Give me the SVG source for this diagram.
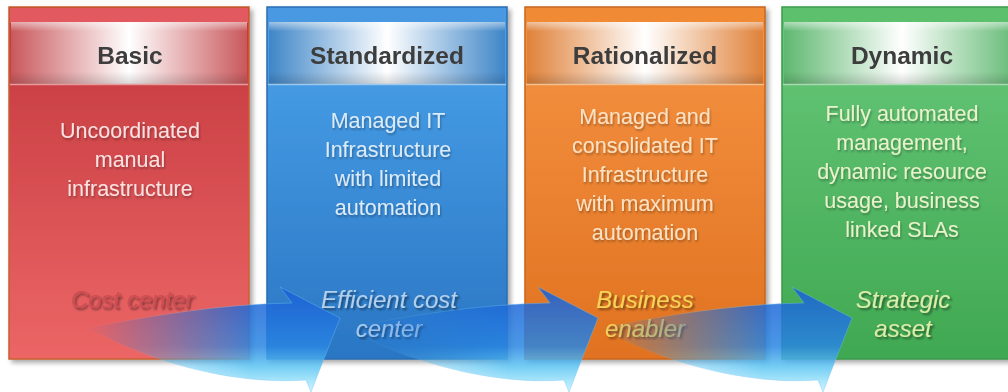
<svg xmlns="http://www.w3.org/2000/svg" width="1008" height="392" viewBox="0 0 1008 392">
<defs>
<style>
.title{font-family:"Liberation Sans",Arial,sans-serif;font-weight:bold;font-size:24.5px;fill:#3c3c3c;text-anchor:middle}
.body{font-family:"Liberation Sans",Arial,sans-serif;font-size:21.5px;text-anchor:middle;filter:url(#tsh)}
.role{font-family:"Liberation Sans",Arial,sans-serif;font-style:italic;font-size:24px;text-anchor:middle;filter:url(#emb)}
</style>
<filter id="tsh" x="-10%" y="-20%" width="120%" height="150%">
<feGaussianBlur in="SourceAlpha" stdDeviation="1"/>
<feOffset dx="1" dy="1.5" result="b"/>
<feComponentTransfer><feFuncA type="linear" slope="0.3"/></feComponentTransfer>
<feMerge><feMergeNode/><feMergeNode in="SourceGraphic"/></feMerge>
</filter>
<filter id="emb" x="-10%" y="-20%" width="120%" height="150%">
<feGaussianBlur in="SourceAlpha" stdDeviation="1.2"/>
<feOffset dx="1.5" dy="2" result="b"/>
<feComponentTransfer><feFuncA type="linear" slope="0.45"/></feComponentTransfer>
<feMerge><feMergeNode/><feMergeNode in="SourceGraphic"/></feMerge>
</filter>
<filter id="bsh" x="-5%" y="-5%" width="115%" height="115%">
<feGaussianBlur in="SourceAlpha" stdDeviation="2.5"/>
<feOffset dx="3" dy="3"/>
<feComponentTransfer><feFuncA type="linear" slope="0.35"/></feComponentTransfer>
<feMerge><feMergeNode/><feMergeNode in="SourceGraphic"/></feMerge>
</filter>
<linearGradient id="gRed" x1="0" y1="0" x2="0" y2="1"><stop offset="0" stop-color="#c2363c"/><stop offset="1" stop-color="#ec6666"/></linearGradient>
<linearGradient id="gBlue" x1="0" y1="0" x2="0" y2="1"><stop offset="0" stop-color="#4ca4ec"/><stop offset="1" stop-color="#2a76c4"/></linearGradient>
<linearGradient id="gOrange" x1="0" y1="0" x2="0" y2="1"><stop offset="0" stop-color="#f69444"/><stop offset="1" stop-color="#e07220"/></linearGradient>
<linearGradient id="gGreen" x1="0" y1="0" x2="0" y2="1"><stop offset="0" stop-color="#68c87a"/><stop offset="1" stop-color="#40a852"/></linearGradient>
<linearGradient id="hRed" x1="0" y1="0" x2="1" y2="0"><stop offset="0" stop-color="#c9585c"/><stop offset="0.5" stop-color="#ffffff"/><stop offset="1" stop-color="#c9585c"/></linearGradient>
<linearGradient id="hBlue" x1="0" y1="0" x2="1" y2="0"><stop offset="0" stop-color="#3f86c8"/><stop offset="0.5" stop-color="#ffffff"/><stop offset="1" stop-color="#3f86c8"/></linearGradient>
<linearGradient id="hOrange" x1="0" y1="0" x2="1" y2="0"><stop offset="0" stop-color="#e0823a"/><stop offset="0.5" stop-color="#ffffff"/><stop offset="1" stop-color="#e0823a"/></linearGradient>
<linearGradient id="hGreen" x1="0" y1="0" x2="1" y2="0"><stop offset="0" stop-color="#5fb870"/><stop offset="0.5" stop-color="#ffffff"/><stop offset="1" stop-color="#5fb870"/></linearGradient>
<linearGradient id="hShade" x1="0" y1="0" x2="0" y2="1"><stop offset="0" stop-color="#ffffff" stop-opacity="0.5"/><stop offset="0.15" stop-color="#ffffff" stop-opacity="0"/><stop offset="0.8" stop-color="#000000" stop-opacity="0"/><stop offset="1" stop-color="#000000" stop-opacity="0.15"/></linearGradient>
<linearGradient id="gArrow" gradientUnits="userSpaceOnUse" x1="0" y1="290" x2="0" y2="392"><stop offset="0" stop-color="#1a5fd6"/><stop offset="0.55" stop-color="#2a86e2"/><stop offset="0.75" stop-color="#5cc4f2"/><stop offset="0.9" stop-color="#9ee4fc"/><stop offset="1" stop-color="#c4f2ff"/></linearGradient>
<linearGradient id="gFade" gradientUnits="userSpaceOnUse" x1="85" y1="0" x2="250" y2="0"><stop offset="0" stop-color="#000"/><stop offset="1" stop-color="#fff"/></linearGradient>
<mask id="fadeL" maskUnits="userSpaceOnUse" x="0" y="250" width="400" height="150"><rect x="0" y="250" width="400" height="150" fill="url(#gFade)"/></mask>
<path id="arrowShape" d="M 88,328 C 150,316 220,304 292,303 L 280,287 L 340,318 L 311,392 L 306,380 C 250,384 170,372 88,328 Z"/>
</defs>

<g id="node-basic" filter="url(#bsh)">
<rect x="9" y="7" width="240" height="352" fill="url(#gRed)" stroke="#c8602c" stroke-width="1.5"/>
<rect x="10" y="8" width="238" height="15" fill="#e25a60"/>
<rect x="11" y="22" width="236" height="62" fill="url(#hRed)"/>
<rect x="11" y="22" width="236" height="62" fill="url(#hShade)"/>
<line x1="10" y1="84.5" x2="248" y2="84.5" stroke="#e89a9a" stroke-width="1.5"/>
<text class="title" x="130" y="64">Basic</text>
<g class="body" fill="#fae2e2">
<text x="130" y="138">Uncoordinated</text>
<text x="130" y="167">manual</text>
<text x="130" y="196">infrastructure</text>
</g>
<text class="role" x="132" y="308" fill="#cc4e52">Cost center</text>
</g>

<g id="node-standardized" filter="url(#bsh)">
<rect x="267" y="7" width="240" height="352" fill="url(#gBlue)" stroke="#2a6cb0" stroke-width="1.5"/>
<rect x="268" y="8" width="238" height="15" fill="#4a98e2"/>
<rect x="269" y="22" width="236" height="62" fill="url(#hBlue)"/>
<rect x="269" y="22" width="236" height="62" fill="url(#hShade)"/>
<line x1="268" y1="84.5" x2="506" y2="84.5" stroke="#9cc8ee" stroke-width="1.5"/>
<text class="title" x="387" y="64">Standardized</text>
<g class="body" fill="#dcebf8">
<text x="388" y="128">Managed IT</text>
<text x="388" y="157">Infrastructure</text>
<text x="388" y="186">with limited</text>
<text x="388" y="215">automation</text>
</g>
<g class="role" fill="#b2cfec">
<text x="389" y="308">Efficient cost</text>
<text x="389" y="337">center</text>
</g>
</g>

<g id="node-rationalized" filter="url(#bsh)">
<rect x="525" y="7" width="240" height="352" fill="url(#gOrange)" stroke="#c8641c" stroke-width="1.5"/>
<rect x="526" y="8" width="238" height="15" fill="#f08a36"/>
<rect x="527" y="22" width="236" height="62" fill="url(#hOrange)"/>
<rect x="527" y="22" width="236" height="62" fill="url(#hShade)"/>
<line x1="526" y1="84.5" x2="764" y2="84.5" stroke="#f4c090" stroke-width="1.5"/>
<text class="title" x="645" y="64">Rationalized</text>
<g class="body" fill="#fce2c4">
<text x="645" y="124">Managed and</text>
<text x="645" y="153">consolidated IT</text>
<text x="645" y="182">Infrastructure</text>
<text x="645" y="211">with maximum</text>
<text x="645" y="240">automation</text>
</g>
<g class="role" fill="#f6d456">
<text x="645" y="308">Business</text>
<text x="645" y="337">enabler</text>
</g>
</g>

<g id="node-dynamic" filter="url(#bsh)">
<rect x="782" y="7" width="240" height="352" fill="url(#gGreen)" stroke="#3a9a4a" stroke-width="1.5"/>
<rect x="783" y="8" width="238" height="15" fill="#5cc06c"/>
<rect x="784" y="22" width="236" height="62" fill="url(#hGreen)"/>
<rect x="784" y="22" width="236" height="62" fill="url(#hShade)"/>
<line x1="783" y1="84.5" x2="1021" y2="84.5" stroke="#a8dcb0" stroke-width="1.5"/>
<text class="title" x="902" y="64">Dynamic</text>
<g class="body" fill="#eaf2cc">
<text x="902" y="121">Fully automated</text>
<text x="902" y="150">management,</text>
<text x="902" y="179">dynamic resource</text>
<text x="902" y="208">usage, business</text>
<text x="902" y="237">linked SLAs</text>
</g>
<g class="role" fill="#dcedaa">
<text x="903" y="308">Strategic</text>
<text x="903" y="337">asset</text>
</g>
</g>

<g id="connectors">
<g id="arrow-1">
<g mask="url(#fadeL)" opacity="0.85"><use href="#arrowShape" fill="url(#gArrow)" stroke="#6cc0f4" stroke-width="0.8" stroke-opacity="0.6"/></g>
</g>
<g id="arrow-2" transform="translate(258,0)">
<g mask="url(#fadeL)" opacity="0.85"><use href="#arrowShape" fill="url(#gArrow)" stroke="#6cc0f4" stroke-width="0.8" stroke-opacity="0.6"/></g>
</g>
<g id="arrow-3" transform="translate(512,0)">
<g mask="url(#fadeL)" opacity="0.85"><use href="#arrowShape" fill="url(#gArrow)" stroke="#6cc0f4" stroke-width="0.8" stroke-opacity="0.6"/></g>
</g>
</g>
</svg>
